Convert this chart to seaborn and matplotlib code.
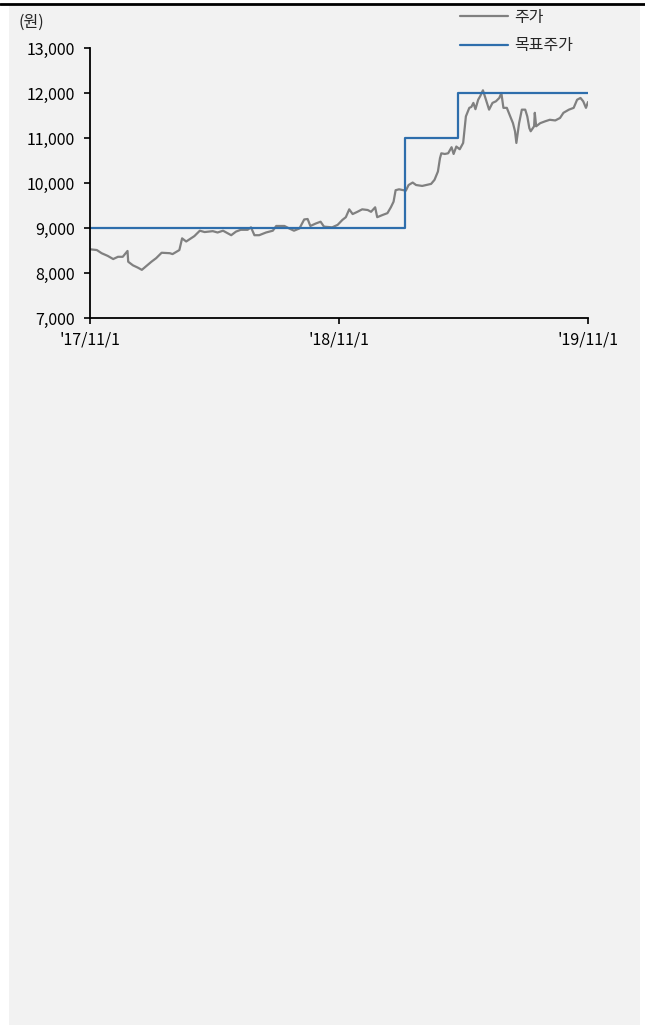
import matplotlib.pyplot as plt
import pandas as pd
import seaborn as sns
from matplotlib.lines import Line2D
from matplotlib.patches import Rectangle

sns.set_style('ticks')
plt.rcParams['font.family'] = ['Noto Sans CJK KR', 'DejaVu Sans']

start = pd.Timestamp('2017-11-01')

# days after 2017-11-01 and closing price (won)
price_days = [0, 10, 17, 26, 34, 41, 48, 55, 56, 63, 70, 76, 83, 90, 97, 105,
              117, 121, 131, 135, 141, 146, 153, 161, 168, 180, 187, 195, 207,
              214, 221, 231, 236, 241, 248, 258, 268, 273, 285, 292, 299, 307,
              314, 319, 323, 331, 338, 343, 355, 363, 370, 375, 380, 385, 392,
              399, 407, 412, 418, 421, 429, 436, 441, 445, 448, 453, 463, 467,
              473, 478, 487, 500, 505, 510, 513, 515, 520, 525, 530, 533, 537,
              542, 547, 551, 556, 559, 562, 565, 569, 572, 576, 580, 585, 590,
              595, 600, 603, 606, 611, 616, 620, 623, 625, 629, 633, 638, 641,
              644, 646, 651, 652, 654, 660, 667, 674, 682, 689, 694, 702, 709,
              714, 719, 723, 727, 730]
price = [8527, 8510, 8440, 8380, 8310, 8360, 8360, 8490, 8250, 8170, 8120, 8070,
         8160, 8250, 8330, 8450, 8440, 8420, 8510, 8770, 8700, 8750, 8820, 8940,
         8910, 8930, 8900, 8940, 8840, 8920, 8960, 8960, 9015, 8840, 8840, 8900,
         8940, 9045, 9045, 8990, 8940, 8990, 9190, 9200, 9045, 9100, 9140, 9030,
         9015, 9070, 9180, 9240, 9415, 9310, 9360, 9415, 9400, 9360, 9460, 9240,
         9290, 9330, 9460, 9585, 9840, 9860, 9830, 9955, 10010, 9955, 9935, 9980,
         10070, 10255, 10550, 10660, 10645, 10660, 10795, 10645, 10810, 10750,
         10890, 11480, 11670, 11690, 11780, 11640, 11850, 11930, 12060, 11870,
         11630, 11780, 11815, 11890, 12000, 11670, 11670, 11480, 11330, 11150,
         10890, 11330, 11630, 11630, 11480, 11220, 11150, 11260, 11560, 11260,
         11330, 11370, 11405, 11390, 11445, 11560, 11630, 11670, 11850, 11890,
         11815, 11670, 11800]

target_dates = ['2017-11-01', '2019-02-06', '2019-04-24', '2019-11-01']
target = [9000, 11000, 12000, 12000]

x_ticks = ['2017-11-01', '2018-11-01', '2019-11-01']
x_labels = ["'17/11/1", "'18/11/1", "'19/11/1"]
y_ticks = [7000, 8000, 9000, 10000, 11000, 12000, 13000]

df_price = pd.DataFrame({'date': start + pd.to_timedelta(price_days, unit='D'),
                         'price': price})
df_target = pd.DataFrame({'date': pd.to_datetime(target_dates), 'target': target})

W, H = 645, 1025
fig = plt.figure(figsize=(W / 100, H / 100), dpi=100, facecolor='white')
fig.add_artist(Rectangle((9 / W, 0), 631 / W, 1 - 5 / H, transform=fig.transFigure,
                         facecolor='#f2f2f2', edgecolor='none', zorder=0))
fig.add_artist(Line2D([0, 1], [1 - 4 / H] * 2, transform=fig.transFigure,
                      color='black', lw=2))

ax = fig.add_axes([90 / W, 1 - 318 / H, 498 / W, 270 / H])
ax.patch.set_visible(False)

sns.lineplot(data=df_price, x='date', y='price', ax=ax, color='#808080',
             lw=1.6, label='주가')
sns.lineplot(data=df_target, x='date', y='target', ax=ax, color='#2e6eac',
             lw=1.6, drawstyle='steps-post', label='목표주가')

ax.set_xlim(pd.Timestamp(x_ticks[0]), pd.Timestamp(x_ticks[-1]))
ax.set_ylim(7000, 13000)
ax.set_xticks(pd.to_datetime(x_ticks))
ax.set_xticklabels(x_labels)
ax.set_yticks(y_ticks)
ax.set_yticklabels([f'{v:,}' for v in y_ticks])
ax.set_xlabel('')
ax.set_ylabel('')
ax.tick_params(axis='both', direction='out', length=4, width=1.2,
               colors='black', labelsize=11.5)
ax.tick_params(axis='y', pad=7)
ax.tick_params(axis='x', pad=6)
sns.despine(ax=ax)
for s in ['left', 'bottom']:
    ax.spines[s].set_linewidth(1.3)
    ax.spines[s].set_color('black')

fig.text(18 / W, 1 - 22 / H, '(원)', fontsize=11.5, va='center', ha='left')

ax.legend(loc='upper left', bbox_to_anchor=(460 / W, 1 - 9 / H),
          bbox_transform=fig.transFigure, frameon=False, fontsize=11.5,
          handlelength=3.0, handletextpad=0.4, borderpad=0, borderaxespad=0,
          labelspacing=0.7)

fig.savefig('out.png', dpi=100)
